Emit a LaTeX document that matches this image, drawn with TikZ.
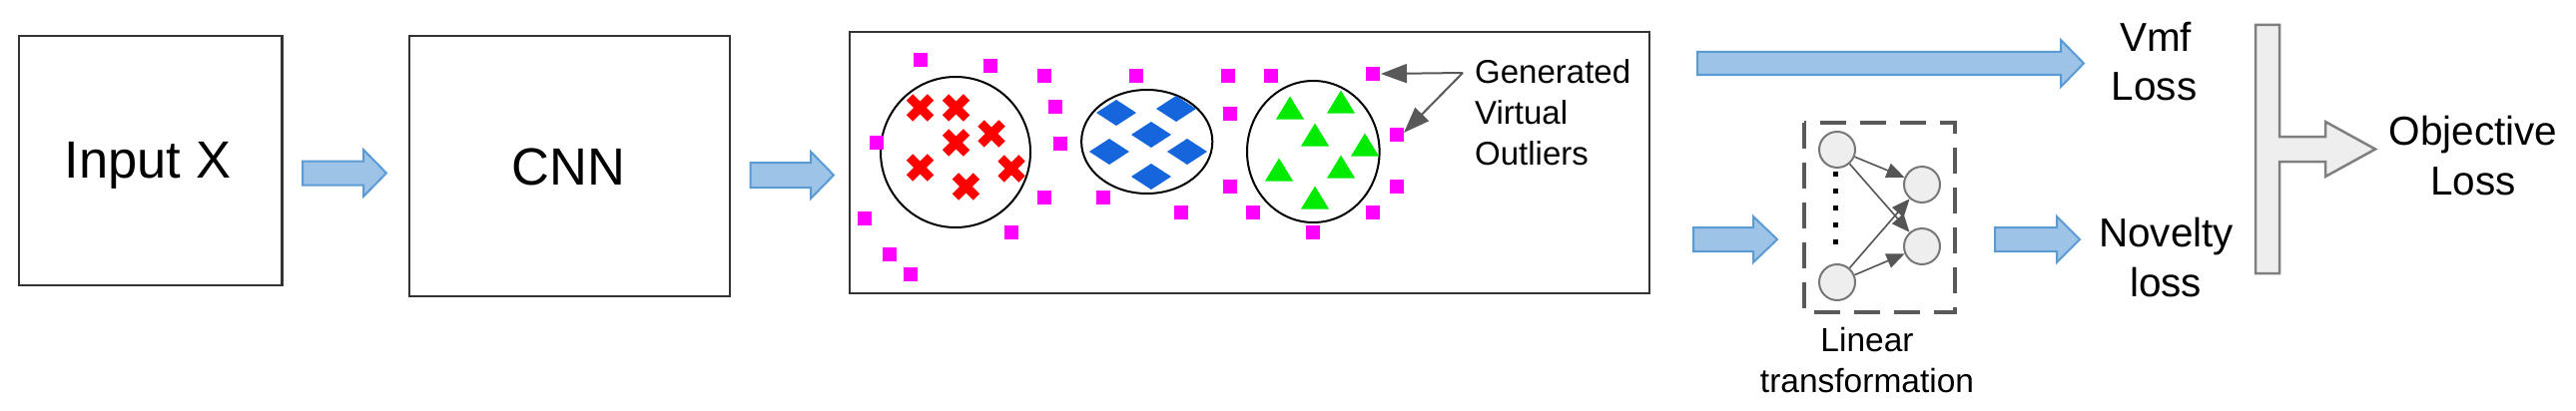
\documentclass[tikz,border=0pt]{standalone}
\usepackage{fontspec}
\setmainfont{Liberation Sans}
\usetikzlibrary{arrows.meta}
\definecolor{arrfill}{RGB}{157,195,230}
\definecolor{arrdraw}{RGB}{91,155,213}
\definecolor{boxc}{RGB}{51,51,51}
\definecolor{magc}{RGB}{255,0,255}
\definecolor{redc}{RGB}{255,0,0}
\definecolor{bluec}{RGB}{21,101,221}
\definecolor{greenc}{RGB}{0,235,0}
\definecolor{callc}{RGB}{89,89,89}
\definecolor{neurf}{RGB}{238,238,238}
\definecolor{neurd}{RGB}{119,119,119}
\definecolor{nnarrc}{RGB}{85,85,85}
\definecolor{tfill}{RGB}{238,238,238}
\definecolor{tdraw}{RGB}{127,127,127}
\newcommand\bluearr[6]{%
  \draw[barrow] ({#1},{#4-#5}) -- ({#2},{#4-#5}) -- ({#2},{#4-#6}) -- ({#3},{#4})
    -- ({#2},{#4+#6}) -- ({#2},{#4+#5}) -- ({#1},{#4+#5}) -- cycle;}
\begin{document}
\begin{tikzpicture}[x=1pt,y=-1pt,
  box/.style={draw=boxc, line width=2.5pt, inner sep=0pt},
  barrow/.style={fill=arrfill, draw=arrdraw, line width=2pt, line join=miter},
  lbl/.style={inner sep=0pt, anchor=base},
  lblw/.style={inner sep=0pt, anchor=base west},
  bigf/.style={font=\fontsize{52.5}{60}\selectfont},
  midf/.style={font=\fontsize{40.5}{48}\selectfont},
  smlf/.style={font=\fontsize{33}{40}\selectfont},
  outlier/.style={fill=magc},
  redx/.style={draw=redc, line width=9pt},
  bluedia/.style={fill=bluec},
  greentri/.style={fill=greenc},
  clus/.style={draw=black, line width=2pt},
  callout/.style={draw=callc, line width=2pt, -{Triangle[length=26pt,width=19pt]}},
  neuron/.style={circle, fill=neurf, draw=neurd, line width=2pt, minimum size=36pt, inner sep=0pt},
  nnarr/.style={draw=nnarrc, line width=1.6pt, -{Triangle[length=18pt,width=15pt]}},
  dashbox/.style={draw=callc, line width=4pt, dash pattern=on 26pt off 14pt},
  tshape/.style={fill=tfill, draw=tdraw, line width=2.5pt, line join=miter}
]
\useasboundingbox (0,0) rectangle (2580,412);
% boxes
\node[box, minimum width=263.5pt, minimum height=250pt] (inp) at (150.75,161) {};
\node[box, minimum width=321pt, minimum height=261pt] (cnn) at (570.5,166.5) {};
\node[box, minimum width=801pt, minimum height=262pt] (feat) at (1251.5,163) {};
\node[lbl, bigf] (tinp) at (148,178) {Input X};
\node[lbl, bigf] (tcnn) at (569.5,185) {CNN};
% blue arrows
\bluearr{303}{364}{387}{173.5}{12}{23.5}
\bluearr{751.5}{812}{835}{175.5}{12.5}{23.5}
\bluearr{1700}{2064}{2087}{63.5}{11.5}{23.5}
\bluearr{1696}{1756}{1780}{240}{12}{23}
\bluearr{1998}{2060}{2083}{240}{12}{23}
% clusters
\draw[clus] (957,152.5) ellipse [x radius=75pt, y radius=75.5pt];
\draw[clus] (1148.7,142) ellipse [x radius=65.6pt, y radius=52pt];
\draw[clus] (1315.3,152) ellipse [x radius=66.3pt, y radius=71pt];
\foreach \x/\y in {921.5/108, 957.5/108, 993/134, 957.5/143, 921.5/168, 1013/169, 967.4/187}
  \draw[redx] (\x-10.5,\y-10.5) -- (\x+10.5,\y+10.5) (\x-10.5,\y+10.5) -- (\x+10.5,\y-10.5);
\foreach \x/\y in {1118/113, 1178/109, 1153/135, 1111/152, 1189/152, 1153/177}
  \fill[bluedia] (\x-20,\y) -- (\x,\y-13) -- (\x+20,\y) -- (\x,\y+13) -- cycle;
\foreach \x/\y in {1292/108, 1343/102, 1317/135, 1367/145, 1281/170, 1343/167, 1317/198}
  \fill[greentri] (\x-14,\y+11.5) -- (\x+14,\y+11.5) -- (\x,\y-11.5) -- cycle;
\foreach \x/\y in {921.5/60, 992/66, 1045.5/76, 1137.7/76, 1229.6/76, 1273/76, 1375/74,
  1057.4/107, 1231.5/114, 877.5/143, 1062/144, 1398.7/135, 1045.5/198, 1105/198,
  1231.5/187, 1398.7/187, 866/219, 1182.5/213, 1255/213, 1375/213, 1013/233,
  1314.6/233, 891/255, 912/275}
  \fill[outlier] (\x-7,\y-7) rectangle (\x+7,\y+7);
% callout
\coordinate (cj) at (1465,73);
\coordinate (t1) at (1383,74);
\coordinate (t2) at (1406,133);
\draw[callout] (cj) -- (t1);
\draw[callout] (cj) -- (t2);
\node[lblw, smlf] (g1) at (1477,83) {Generated};
\node[lblw, smlf] (g2) at (1477,124) {Virtual};
\node[lblw, smlf] (g3) at (1477,165) {Outliers};
% linear transformation
\draw[dashbox] (1807,123) rectangle (1958,313);
\node[neuron] (i1) at (1840,150) {};
\node[neuron] (i2) at (1840,283) {};
\node[neuron] (o1) at (1925,185) {};
\node[neuron] (o2) at (1925,247) {};
\draw[nnarr] (i1) -- (o1);
\draw[nnarr] (i1) -- (o2);
\draw[nnarr] (i2) -- (o1);
\draw[nnarr] (i2) -- (o2);
\foreach \y in {174,191,208,225,242}
  \fill[black] (1838-2.5,\y-2.5) rectangle (1838+2.5,\y+2.5);
\node[lbl, font=\fontsize{33.5}{40}\selectfont] (l1) at (1870,352) {Linear};
\node[lbl, font=\fontsize{33.5}{40}\selectfont] (l2) at (1870,393) {transformation};
% losses
\node[lbl, midf] (v1) at (2159,52) {Vmf};
\node[lbl, midf] (v2) at (2157.5,100) {Loss};
\node[lbl, midf] (n1) at (2169.5,247) {Novelty};
\node[lbl, midf] (n2) at (2169,297) {loss};
\draw[tshape] (2259,25) -- (2283,25) -- (2283,137) -- (2329,137) -- (2329,122) -- (2379,149.5)
  -- (2329,177) -- (2329,162) -- (2283,162) -- (2283,274) -- (2259,274) -- cycle;
\node[lbl, midf] (ob1) at (2477,145) {Objective};
\node[lbl, midf] (ob2) at (2477,195) {Loss};
\end{tikzpicture}
\end{document}
